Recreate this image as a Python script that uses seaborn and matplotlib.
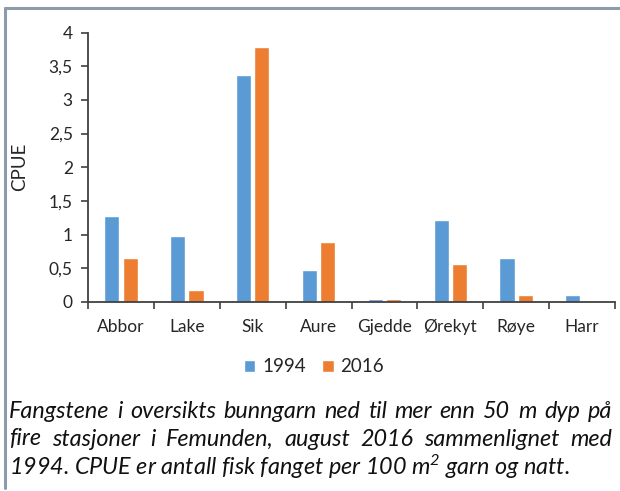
import numpy as np
import pandas as pd
import matplotlib
matplotlib.use('Agg')
import matplotlib.pyplot as plt
import seaborn as sns
from matplotlib.ticker import FixedLocator, FuncFormatter
from matplotlib.lines import Line2D

arter = ['Abbor', 'Lake', 'Sik', 'Aure', 'Gjedde', 'Ørekyt', 'Røye', 'Harr']
cpue_1994 = [1.28, 0.98, 3.37, 0.48, 0.04, 1.21, 0.65, 0.10]
cpue_2016 = [0.65, 0.18, 3.79, 0.89, 0.04, 0.56, 0.10, 0.0]
aar = ['1994', '2016']

caption_lines = [
    'Fangstene i oversikts bunngarn ned til mer enn 50 m dyp på',
    'fire stasjoner i Femunden, august 2016 sammenlignet med',
    '1994. CPUE er antall fisk fanget per 100 m$^2$ garn og natt.',
]

df = pd.DataFrame({'art': arter * 2,
                   'cpue': cpue_1994 + cpue_2016,
                   'aar': [aar[0]] * len(arter) + [aar[1]] * len(arter)})

sns.set_style('white')
plt.rcParams['font.family'] = ['Lato', 'DejaVu Sans']
plt.rcParams['mathtext.fontset'] = 'custom'
plt.rcParams['mathtext.it'] = 'Lato:italic'
plt.rcParams['mathtext.rm'] = 'Lato:italic'

W, H = 620, 491
fig = plt.figure(figsize=(W / 100, H / 100), dpi=100)
ax = fig.add_axes([88 / W, 1 - 302 / H, (615 - 88) / W, (302 - 32.5) / H])

sns.barplot(data=df, x='art', y='cpue', hue='aar', palette=['#5B9BD5', '#ED7D31'],
            width=0.56, gap=0.18, saturation=1, ax=ax, legend=True)

ax.set_xlim(-0.5, len(arter) - 0.5)
ax.set_ylim(0, 4)
ax.set_yticks(np.arange(0, 4.01, 0.5))
ax.yaxis.set_major_formatter(FuncFormatter(lambda v, p: ('%g' % v).replace('.', ',')))
ax.set_xlabel('')
ax.set_ylabel('CPUE', fontsize=13.5, color='#262626')
ax.yaxis.set_label_coords(28 / W, 1 - 167 / H, transform=fig.transFigure)

# ticks between categories, labels in the middle (excel style)
ax.xaxis.set_major_locator(FixedLocator(np.arange(-0.5, len(arter), 1)))
ax.xaxis.set_minor_locator(FixedLocator(np.arange(len(arter))))
ax.set_xticklabels([], minor=False)
ax.set_xticklabels(arter, minor=True)
ax.tick_params(axis='x', which='major', direction='out', length=5, width=1.2, color='#404040', bottom=True)
ax.tick_params(axis='x', which='minor', length=0, pad=12, labelsize=12.5, labelcolor='#262626')
ax.tick_params(axis='y', direction='out', length=5, width=1.2, color='#404040', left=True,
               labelsize=12.5, labelcolor='#262626', pad=6)

sns.despine(ax=ax)
for s in ['left', 'bottom']:
    ax.spines[s].set_color('#404040')
    ax.spines[s].set_linewidth(1.3)

handles, labels = ax.get_legend_handles_labels()
ax.get_legend().remove()
fig.legend(handles, labels, loc='center', bbox_to_anchor=(314 / W, 1 - 367 / H), ncol=2,
           frameon=False, fontsize=13.5, handlelength=0.6, handleheight=0.62,
           handletextpad=0.35, columnspacing=0.9)

# frame lines (top and left only)
fig.add_artist(Line2D([5 / W, 1], [1 - 8 / H, 1 - 8 / H], transform=fig.transFigure,
                      color='#8C9CAC', lw=2.2))
fig.add_artist(Line2D([5 / W, 5 / W], [1 - 8 / H, 1 - 488 / H], transform=fig.transFigure,
                      color='#8C9CAC', lw=2.2))

# caption: size so that last line is ~560 px wide, first two lines justified
x0, x1 = 9, 612
ys = [411, 439, 467]
renderer = fig.canvas.get_renderer()
probe = fig.text(0, 0, caption_lines[-1], fontsize=10, style='italic')
fs = 10 * 561 / probe.get_window_extent(renderer).width
probe.remove()
cap_kw = dict(fontsize=fs, style='italic', color='#111111', va='center', ha='left')
for i, line in enumerate(caption_lines):
    y = 1 - ys[i] / H
    if i == len(caption_lines) - 1:
        fig.text(x0 / W, y, line, **cap_kw)
        continue
    words = line.split(' ')
    texts = [fig.text(0, y, w, **cap_kw) for w in words]
    widths = [t.get_window_extent(renderer).width for t in texts]
    space = (x1 - x0 - sum(widths)) / (len(words) - 1)
    xpos = x0
    for t, w in zip(texts, widths):
        t.set_x(xpos / W)
        xpos += w + space

fig.savefig('out.png', dpi=100)
